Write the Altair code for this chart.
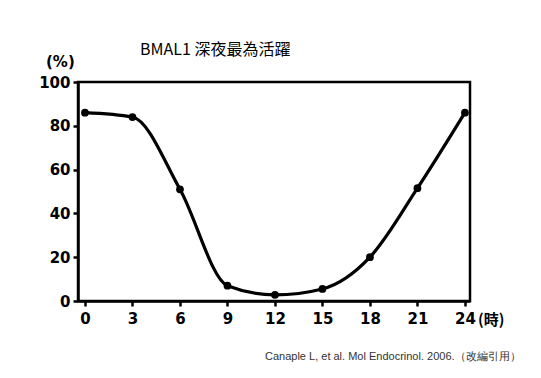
import altair as alt
import pandas as pd

hours = [0, 3, 6, 9, 12, 15, 18, 21, 24]
values = [86, 84, 51, 7, 2.8, 5.5, 20, 51.5, 86]
x_ticks = [0, 3, 6, 9, 12, 15, 18, 21, 24]
y_ticks = [0, 20, 40, 60, 80, 100]

df = pd.DataFrame({"hour": hours, "value": values})

FONT = "DejaVu Sans"
CJK = "Noto Sans CJK TC"

xs = alt.Scale(domain=[-0.44, 24.32], nice=False, zero=False)
ys = alt.Scale(domain=[0, 100], nice=False)

base = alt.Chart(df).encode(
    x=alt.X("hour:Q", scale=xs, axis=alt.Axis(
        values=x_ticks, title=None, grid=False, domainColor="black", domainWidth=2.5,
        tickColor="black", tickWidth=2.5, tickSize=5, labelFont=FONT, labelFontSize=15,
        labelFontWeight="bold", labelColor="black", labelPadding=5)),
    y=alt.Y("value:Q", scale=ys, axis=alt.Axis(
        values=y_ticks, title=None, grid=False, domainColor="black", domainWidth=2.5,
        tickColor="black", tickWidth=2.5, tickSize=5, labelFont=FONT, labelFontSize=15,
        labelFontWeight="bold", labelColor="black", labelPadding=3)),
)

line = base.mark_line(color="black", strokeWidth=3.2, interpolate="monotone")
pts = base.mark_circle(color="black", size=60, opacity=1)

def note(text, x, y, font=FONT, size=14, weight="normal", align="left", color="black"):
    return alt.Chart(pd.DataFrame({"t": [text]})).mark_text(
        font=font, fontSize=size, fontWeight=weight, align=align, baseline="middle", color=color
    ).encode(text="t:N", x=alt.value(x), y=alt.value(y))

title = note("BMAL1 深夜最為活躍", 140 - 78, 50 - 82, font=CJK, size=16)
pct = note("(%)", 46 - 78, 62 - 82, size=15, weight="bold")
hr = note("(時)", 478 - 78, 320 - 82, font=CJK, size=15, weight="bold")
cite = note("Canaple L, et al. Mol Endocrinol. 2006.（改編引用）", 265 - 78, 357 - 82,
            font="Liberation Sans", size=11, color="#333333")

chart = alt.layer(line, pts, title, pct, hr, cite).properties(
    width=392, height=219,
    background="white",
    autosize=alt.AutoSizeParams(type="none"),
    padding={"left": 70, "top": 74, "right": 60, "bottom": 69},
).configure_view(stroke="black", strokeWidth=2.5)

chart.save("out.html", embed_options={"renderer": "svg", "actions": False})
